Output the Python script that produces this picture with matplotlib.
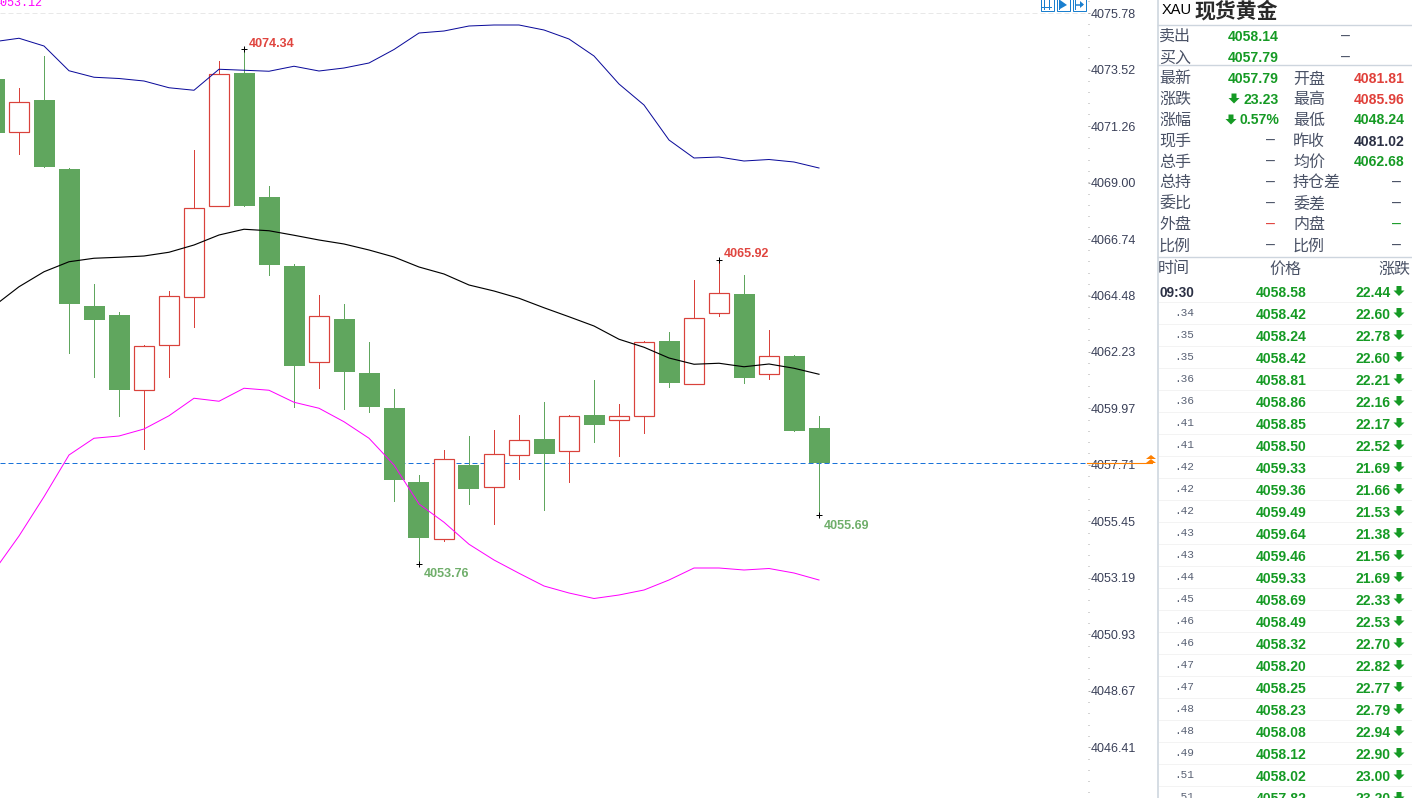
import matplotlib
matplotlib.use('Agg')
import matplotlib.pyplot as plt
import numpy as np
from matplotlib.patches import Rectangle, Polygon
from matplotlib.ticker import AutoMinorLocator

plt.rcParams['font.family'] = ['Liberation Sans', 'Noto Sans CJK SC', 'DejaVu Sans']

# 5 minute candles, spot gold
opens = [4073.14, 4071.01, 4072.30, 4069.54, 4064.06, 4063.70, 4060.69, 4062.49, 4064.41, 4068.05, 4073.38,
         4068.42, 4065.66, 4061.81, 4063.54, 4061.38, 4059.98, 4057.02, 4054.73, 4057.70, 4056.81, 4058.09,
         4058.74, 4058.27, 4059.70, 4059.49, 4059.65, 4062.66, 4060.93, 4063.77, 4064.54, 4061.33, 4062.06, 4059.18]
closes = [4070.98, 4072.21, 4069.63, 4064.14, 4063.50, 4060.71, 4062.45, 4064.45, 4067.97, 4073.33, 4068.07,
          4065.70, 4061.67, 4063.65, 4061.43, 4060.03, 4057.11, 4054.79, 4057.93, 4056.74, 4058.13, 4058.69,
          4058.15, 4059.65, 4059.31, 4059.65, 4062.61, 4060.99, 4063.57, 4064.57, 4061.19, 4062.05, 4059.07, 4057.79]
highs = [4073.40, 4072.78, 4074.06, 4069.58, 4064.94, 4063.82, 4062.50, 4064.66, 4070.30, 4073.86, 4074.34,
         4068.86, 4065.74, 4064.50, 4064.14, 4062.62, 4060.74, 4057.30, 4058.30, 4058.86, 4059.10, 4059.70,
         4060.22, 4059.70, 4061.10, 4060.14, 4062.66, 4063.02, 4065.10, 4065.92, 4065.30, 4063.10, 4062.10, 4059.66]
lows = [4070.50, 4070.15, 4069.63, 4062.19, 4061.23, 4059.67, 4058.35, 4061.23, 4063.23, 4068.05, 4068.07,
        4065.30, 4060.03, 4060.79, 4059.95, 4059.83, 4056.27, 4053.76, 4054.66, 4056.15, 4055.35, 4057.15,
        4055.91, 4057.03, 4058.63, 4058.07, 4058.99, 4060.83, 4060.93, 4063.67, 4060.99, 4061.15, 4059.07, 4055.69]

# bollinger bands
upper = [4074.63, 4074.77, 4074.46, 4073.47, 4073.21, 4073.16, 4073.06, 4072.79, 4072.69, 4073.53, 4073.49,
         4073.45, 4073.65, 4073.46, 4073.58, 4073.78, 4074.32, 4074.98, 4075.06, 4075.26, 4075.30, 4075.30,
         4075.10, 4074.74, 4074.06, 4072.94, 4072.10, 4070.70, 4069.98, 4070.02, 4069.86, 4069.92, 4069.82, 4069.58]
middle = [4064.06, 4064.83, 4065.43, 4065.83, 4065.97, 4066.01, 4066.06, 4066.21, 4066.50, 4066.90, 4067.13,
          4067.07, 4066.89, 4066.70, 4066.54, 4066.30, 4066.02, 4065.62, 4065.34, 4064.90, 4064.66, 4064.37,
          4063.99, 4063.63, 4063.26, 4062.73, 4062.41, 4061.98, 4061.73, 4061.77, 4061.63, 4061.74, 4061.57, 4061.33]
lower = [4053.46, 4054.86, 4056.43, 4058.10, 4058.77, 4058.86, 4059.14, 4059.67, 4060.37, 4060.25, 4060.77,
         4060.69, 4060.21, 4059.97, 4059.43, 4058.77, 4057.70, 4056.14, 4055.41, 4054.53, 4053.90, 4053.37,
         4052.86, 4052.58, 4052.36, 4052.50, 4052.70, 4053.10, 4053.58, 4053.58, 4053.50, 4053.56, 4053.38, 4053.10]

price_ticks = [4075.78, 4073.52, 4071.26, 4069.00, 4066.74, 4064.48, 4062.23,
               4059.97, 4057.71, 4055.45, 4053.19, 4050.93, 4048.67, 4046.41]
last_price = 4057.79

# (candle index, price, label above the candle)
extremes = [(10, 4074.34, True), (17, 4053.76, False), (29, 4065.92, True), (33, 4055.69, False)]

# quote table
quote_left = [('最新', '4057.79'), ('涨跌', '23.23'), ('涨幅', '0.57%'), ('现手', '–'), ('总手', '–'),
              ('总持', '–'), ('委比', '–'), ('外盘', '–'), ('比例', '–')]
quote_right = [('开盘', '4081.81'), ('最高', '4085.96'), ('最低', '4048.24'), ('昨收', '4081.02'), ('均价', '4062.68'),
               ('持仓差', '–'), ('委差', '–'), ('内盘', '–'), ('比例', '–')]
quote_right_colors = ['#e0403a', '#e0403a', '#159a24', '#2b3044', '#159a24', '#444c60', '#444c60', '#159a24', '#444c60']
quote_y = [78, 98.5, 119.5, 140.5, 161, 182, 203, 224, 245]

# tick list
tick_times = ['09:30', '.34', '.35', '.35', '.36', '.36', '.41', '.41', '.42', '.42', '.42', '.43',
              '.43', '.44', '.45', '.46', '.46', '.47', '.47', '.48', '.48', '.49', '.51', '.51']
tick_prices = ['4058.58', '4058.42', '4058.24', '4058.42', '4058.81', '4058.86', '4058.85', '4058.50',
               '4059.33', '4059.36', '4059.49', '4059.64', '4059.46', '4059.33', '4058.69', '4058.49',
               '4058.32', '4058.20', '4058.25', '4058.23', '4058.08', '4058.12', '4058.02', '4057.82']
tick_changes = ['22.44', '22.60', '22.78', '22.60', '22.21', '22.16', '22.17', '22.52', '21.69', '21.66',
                '21.53', '21.38', '21.56', '21.69', '22.33', '22.53', '22.70', '22.82', '22.77', '22.79',
                '22.94', '22.90', '23.00', '23.20']

GREEN = '#60a65e'
RED = '#d9423b'
VALUE_GREEN = '#159a24'
LABEL_GRAY = '#4a5266'
PX = 0.72  # one pixel in points at dpi 100

fig = plt.figure(figsize=(14.12, 7.98), dpi=100, facecolor='white')

# price chart: one candle every 25 px, 0.04 per px vertically
ax = fig.add_axes([0, 0, 1087.5 / 1412, 1])
idx = np.arange(len(opens))
o, c, h, l = map(np.array, (opens, closes, highs, lows))
up = c >= o

ax.axhline(last_price, color='#1a73d9', lw=PX, dashes=(5, 3), zorder=1)
ax.axhline(price_ticks[0], color='#e8e8e8', lw=PX, dashes=(5, 3), zorder=1)

ax.vlines(idx[up], l[up], h[up], color=RED, lw=PX, zorder=2, antialiased=False)
ax.vlines(idx[~up], l[~up], h[~up], color=GREEN, lw=PX, zorder=2, antialiased=False)
ax.bar(idx[up], np.abs(c - o)[up], bottom=o[up], width=0.78, facecolor='white',
       edgecolor=RED, linewidth=PX * 1.2, zorder=3)
ax.bar(idx[~up], np.abs(c - o)[~up], bottom=c[~up], width=0.84, color=GREEN, zorder=3)

ax.plot(idx, upper, color='#0a0a9a', lw=PX, zorder=4)
ax.plot(idx, middle, color='black', lw=PX * 1.15, zorder=4)
ax.plot(idx, lower, color='#ff00ff', lw=PX, zorder=4)

for i, price, above in extremes:
    ax.plot(i, price, marker='+', color='black', ms=5, mew=PX, zorder=5)
    ax.annotate(f'{price:.2f}', xy=(i, price), xytext=(4.5, 5.5 if above else -10.5), textcoords='offset pixels',
                color='#e0453f' if above else '#6fae6a', fontsize=9, fontweight='bold',
                ha='left', va='center', zorder=5)

ax.set_xlim(0.24, 0.24 + 1087.5 / 25)
ax.set_ylim(4076.30 - 0.04 * 798, 4076.30)
ax.set_xticks([])
ax.yaxis.tick_right()
ax.set_yticks(price_ticks)
ax.set_yticklabels([f'{p:.2f}' for p in price_ticks])
ax.yaxis.set_minor_locator(AutoMinorLocator(5))
ax.tick_params(axis='y', which='major', length=2 * PX, width=PX, color='#aaaaaa', pad=0.6,
               labelsize=9, labelcolor='#3a4058')
ax.tick_params(axis='y', which='minor', length=1.2 * PX, width=PX, color='#aaaaaa')
for spine in ax.spines.values():
    spine.set_visible(False)

ax.text(-7 / 25 + 0.24, 4076.30 - 0.04 * 3, '4053.12', color='#ff00ff', fontsize=8.5,
        family=['Liberation Mono'], ha='left', va='center', clip_on=True, zorder=5)

# overlay in pixel coordinates for the quote panel and toolbar
ov = fig.add_axes([0, 0, 1, 1], facecolor='none')
ov.set_xlim(0, 1412)
ov.set_ylim(798, 0)
ov.axis('off')

# last price marker
ov.plot([1087, 1152], [463.3, 463.3], color='#ff8000', lw=PX * 1.1)
ov.add_patch(Polygon([(1146, 459), (1151, 455), (1156, 459)], color='#ff8000', lw=0))
ov.add_patch(Polygon([(1146, 463), (1151, 459), (1156, 463)], color='#ff8000', lw=0))

# toolbar icons
ICON = '#1a7fcf'
for x0 in (1040, 1056, 1072):
    ov.add_patch(Rectangle((x0 + 0.5, -2), 13, 12.5, fill=False, edgecolor=ICON, lw=PX))
ov.plot([1044, 1044], [0, 9], color=ICON, lw=PX)
ov.plot([1049, 1049], [0, 9], color=ICON, lw=PX)
ov.plot([1042, 1051], [7, 7], color=ICON, lw=PX)
ov.plot([1059, 1059], [0, 9], color=ICON, lw=PX)
ov.add_patch(Polygon([(1060, 0), (1067, 5), (1060, 9)], color=ICON, lw=0))
ov.plot([1075, 1075], [0, 9], color=ICON, lw=PX)
ov.plot([1076, 1082], [4.5, 4.5], color=ICON, lw=PX * 1.5)
ov.add_patch(Polygon([(1080, 1), (1084, 4.5), (1080, 8)], color=ICON, lw=0))

# panel frame
FRAME = '#cdd5de'
ov.plot([1158, 1158], [0, 798], color=FRAME, lw=PX * 1.6)
for y in (24.5, 65, 257):
    ov.plot([1158, 1412], [y, y], color=FRAME, lw=PX * 1.4)
for k in range(len(tick_times)):
    ov.plot([1159, 1412], [301.5 + 22 * k] * 2, color='#f3f3f3', lw=PX)


def label(x, y, s, **kw):
    kw.setdefault('fontsize', 11.5)
    kw.setdefault('color', LABEL_GRAY)
    kw.setdefault('ha', 'left')
    ov.text(x, y + 1, s, va='center', **kw)


def value(x, y, s, color=VALUE_GREEN):
    if s == '–':
        ov.text(x, y, s, color=color, fontsize=11.5, ha='right', va='center')
    else:
        ov.text(x, y + 1, s, color=color, fontsize=10.1, fontweight='bold', ha='right', va='center')


def down_arrow(x, y):
    ov.add_patch(Polygon([(x - 2.5, y - 5), (x + 2.5, y - 5), (x + 2.5, y - 0.5), (x + 5.5, y - 0.5),
                          (x, y + 5), (x - 5.5, y - 0.5), (x - 2.5, y - 0.5)], color=VALUE_GREEN, lw=0))


label(1162, 9.5, 'XAU', fontsize=10.5, color='black')
label(1195, 10, '现货黄金', fontsize=15, color='#2a2a2a', fontweight='bold')

label(1159, 35.5, '卖出')
label(1159, 57, '买入')
value(1279, 36, '4058.14')
value(1279, 57, '4057.79')
value(1350, 36, '–', color=LABEL_GRAY)
value(1350, 57, '–', color=LABEL_GRAY)

for (name, val), y in zip(quote_left, quote_y):
    label(1159, y, name)
    if name == '外盘':
        value(1275, y, val, color='#e0403a')
    elif val == '–':
        value(1275, y, val, color=LABEL_GRAY)
    else:
        value(1279, y, val)
down_arrow(1234, 98.5)
down_arrow(1231, 119.5)

for (name, val), y, col in zip(quote_right, quote_y, quote_right_colors):
    label(1293, y, name)
    if val == '–':
        value(1401, y, val, color=col)
    else:
        value(1405, y, val, color=col)

label(1158, 268, '时间')
label(1269, 268, '价格')
label(1378, 268, '涨跌')

for k, (t, p, ch) in enumerate(zip(tick_times, tick_prices, tick_changes)):
    y = 292 + 22 * k
    if k == 0:
        ov.text(1159, y + 1, t, color='#2b3044', fontsize=9.8, fontweight='bold', ha='left', va='center')
    else:
        ov.text(1194, y - 1, t, color='#5a6275', fontsize=8, family=['Liberation Mono'], ha='right', va='center')
    value(1307, y, p)
    value(1391, y, ch)
    down_arrow(1399, y - 1)

fig.savefig('out.png', dpi=100)
plt.close(fig)
